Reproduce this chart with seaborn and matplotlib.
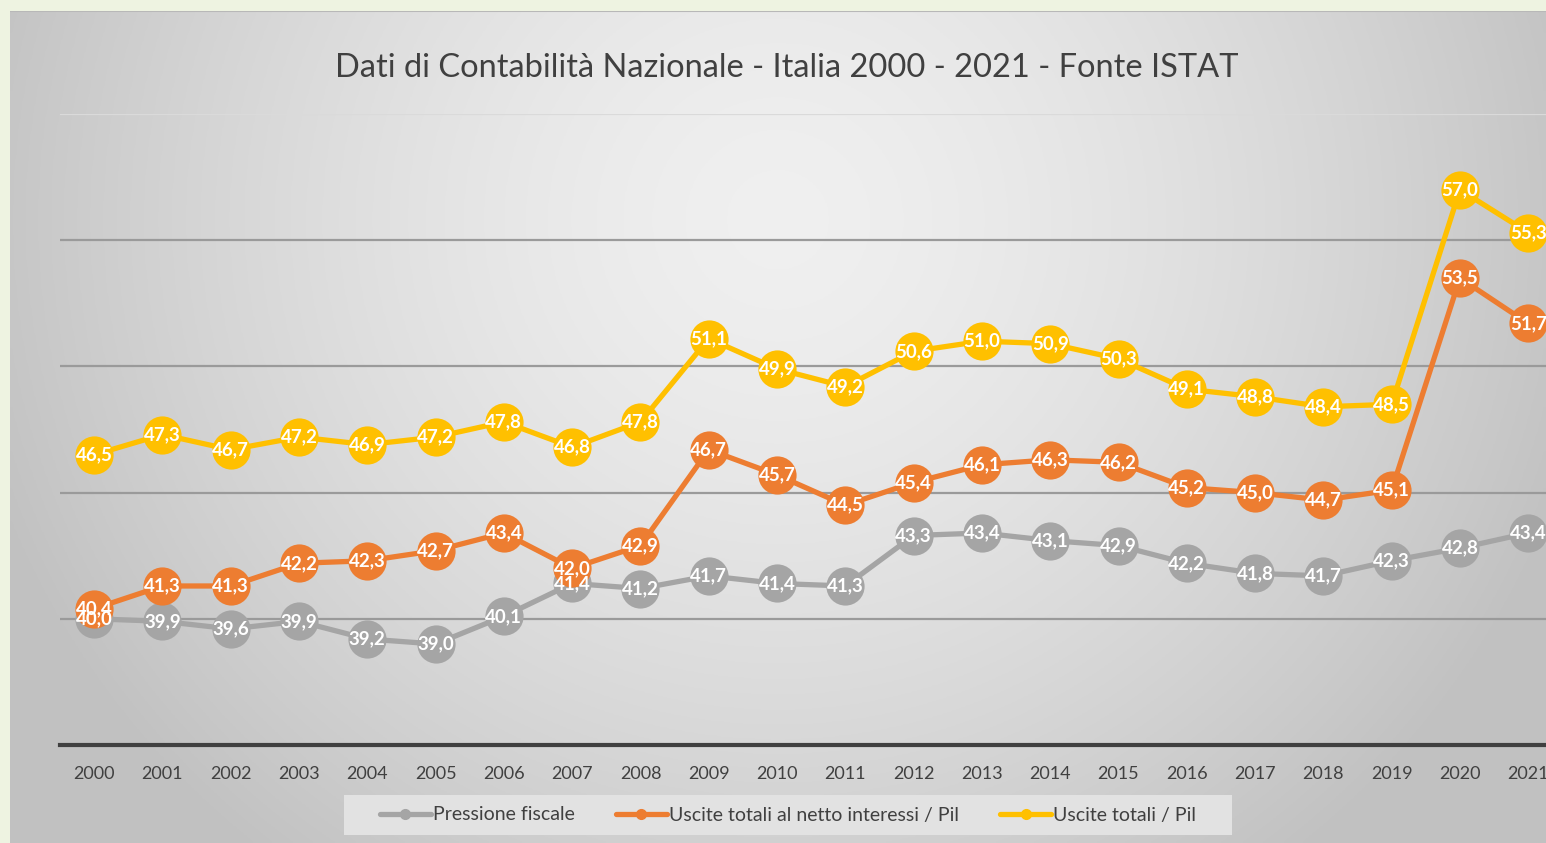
import matplotlib
matplotlib.use('Agg')
import matplotlib.pyplot as plt
from matplotlib.lines import Line2D
from matplotlib.patches import Rectangle
import seaborn as sns
import pandas as pd
import numpy as np

# Data (ISTAT, % of GDP)
anni = list(range(2000, 2022))
pressione_fiscale = [40.0, 39.9, 39.6, 39.9, 39.2, 39.0, 40.1, 41.4, 41.2, 41.7, 41.4,
                     41.3, 43.3, 43.4, 43.1, 42.9, 42.2, 41.8, 41.7, 42.3, 42.8, 43.4]
uscite_netto = [40.4, 41.3, 41.3, 42.2, 42.3, 42.7, 43.4, 42.0, 42.9, 46.7, 45.7,
                44.5, 45.4, 46.1, 46.3, 46.2, 45.2, 45.0, 44.7, 45.1, 53.5, 51.7]
uscite_totali = [46.5, 47.3, 46.7, 47.2, 46.9, 47.2, 47.8, 46.8, 47.8, 51.1, 49.9,
                 49.2, 50.6, 51.0, 50.9, 50.3, 49.1, 48.8, 48.4, 48.5, 57.0, 55.3]
serie = ['Pressione fiscale', 'Uscite totali al netto interessi / Pil', 'Uscite totali / Pil']
colori = ['#A5A5A5', '#ED7D31', '#FFC000']

df = pd.DataFrame({
    'anno': anni * 3,
    'valore': pressione_fiscale + uscite_netto + uscite_totali,
    'serie': [serie[0]] * 22 + [serie[1]] * 22 + [serie[2]] * 22,
})

sns.set_style('white')
plt.rcParams['font.family'] = ['Lato', 'DejaVu Sans']

W, H = 1546, 843
fig = plt.figure(figsize=(W / 100, H / 100), dpi=100, facecolor='#EEF3E1')

# chart area background with radial gradient
bg = fig.add_axes([10 / W, 0, 1 - 10 / W, 832 / H])
gx, gy = np.meshgrid(np.linspace(0, 1, 400), np.linspace(0, 1, 300))
d = np.sqrt(((gx - 0.5) / 0.5) ** 2 + ((gy - 0.25) / 0.9) ** 2)
shade = np.clip(0.94 - 0.16 * d ** 1.5, 0.76, 1)
bg.imshow(np.dstack([shade] * 3), aspect='auto', extent=[0, 1, 0, 1], origin='upper')
bg.set_axis_off()
bg.add_line(Line2D([0, 1], [1, 1], color='#B8B8B8', lw=1.5, transform=bg.transAxes))

ax = fig.add_axes([60 / W, (H - 745) / H, (W - 60) / W, (745 - 114) / H])
ax.set_facecolor('none')

sns.lineplot(data=df, x='anno', y='valore', hue='serie', hue_order=serie,
             palette=colori, marker='o', markersize=27.5, markeredgewidth=0,
             linewidth=3.8, legend=False, ax=ax, zorder=3)

for vals in [pressione_fiscale, uscite_netto, uscite_totali]:
    for a, v in zip(anni, vals):
        ax.text(a, v, f'{v:.1f}'.replace('.', ','), ha='center', va='center',
                color='white', fontsize=13.5, fontweight='bold', zorder=10)

ax.set_xlim(1999.5, 2021.26)
ax.set_ylim(35, 60)
ax.set_yticks([35, 40, 45, 50, 55, 60])
ax.yaxis.grid(True, color='#9A9A9A', lw=1.6)
ax.yaxis.get_gridlines()[-1].set_color('#DADADA')
ax.set_axisbelow(True)
ax.tick_params(axis='y', left=False, labelleft=False)
ax.set_xticks(anni)
ax.tick_params(axis='x', length=0, pad=15, labelsize=13, labelcolor='#404040')
ax.set_xlabel('')
ax.set_ylabel('')
for s in ['top', 'right', 'left']:
    ax.spines[s].set_visible(False)
ax.spines['bottom'].set_color('#404040')
ax.spines['bottom'].set_linewidth(3)

fig.text(787 / W, (H - 68) / H, 'Dati di Contabilità Nazionale - Italia 2000 - 2021 - Fonte ISTAT',
         ha='center', va='center', fontsize=23.5, color='#404040')

# legend box
fig.patches.append(Rectangle((344 / W, (H - 835) / H), (1232 - 344) / W, 40 / H,
                             transform=fig.transFigure, facecolor='#E2E2E2',
                             edgecolor='none', zorder=2))
handles = [Line2D([], [], color=c, lw=3.8, marker='o', markersize=7) for c in colori]
leg = fig.legend(handles, serie, loc='center', bbox_to_anchor=(788 / W, (H - 815) / H),
                 ncol=3, frameon=False, fontsize=14, handlelength=2.6, handletextpad=0.1,
                 columnspacing=2.15)
for t in leg.get_texts():
    t.set_color('#404040')

fig.savefig('out.png', dpi=100, facecolor=fig.get_facecolor())
